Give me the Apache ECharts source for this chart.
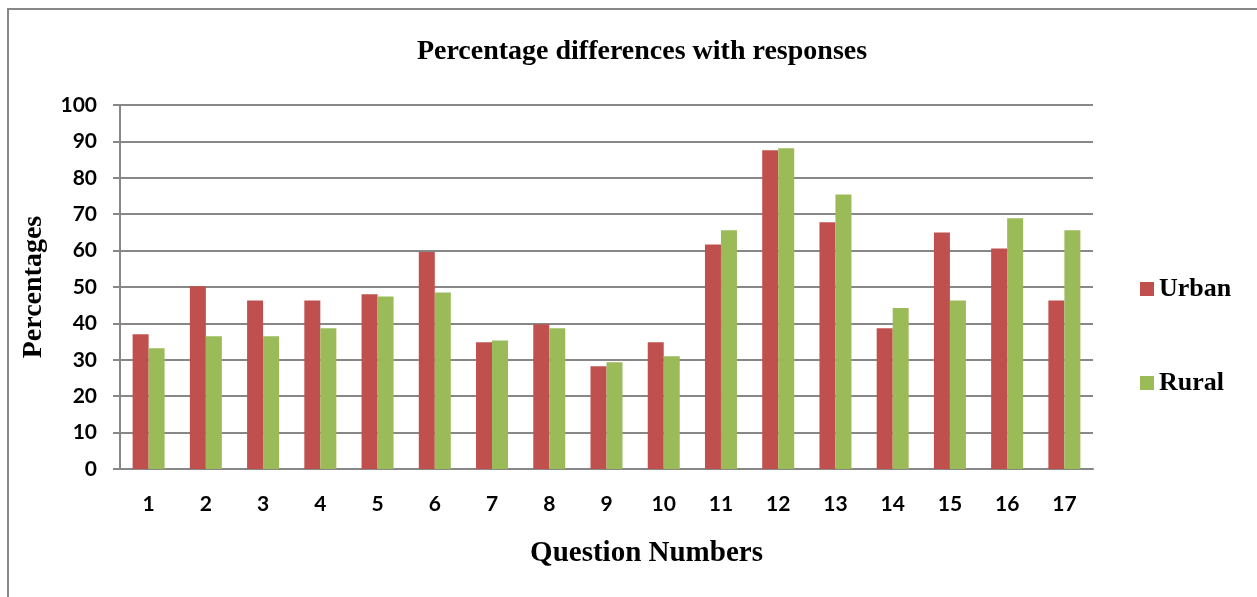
<!DOCTYPE html>
<html>
<head>
<meta charset="utf-8">
<title>Percentage differences with responses</title>
<script src="https://cdn.jsdelivr.net/npm/echarts@6/dist/echarts.min.js"></script>
<style>
  html, body { margin: 0; padding: 0; background: #fff; }
  #chart { width: 1257px; height: 597px; }
</style>
</head>
<body>
<div id="chart"></div>
<script>
// question numbers on the x axis
var questions = ['1', '2', '3', '4', '5', '6', '7', '8', '9', '10', '11', '12', '13', '14', '15', '16', '17'];
// percentages
var urban = [37.0, 50.2, 46.3, 46.3, 48.0, 59.6, 34.8, 39.8, 28.2, 34.8, 61.7, 87.6, 67.8, 38.7, 65.0, 60.6, 46.3];
var rural = [33.2, 36.5, 36.5, 38.7, 47.4, 48.5, 35.3, 38.7, 29.3, 31.0, 65.6, 88.1, 75.4, 44.2, 46.3, 68.9, 65.6];
var yTicks = { min: 0, max: 100, interval: 10 };

var serif = '"Liberation Serif", "DejaVu Serif", serif';
var sans = 'Lato, "Open Sans", sans-serif';
var gray = '#878787';

var myChart = echarts.init(document.getElementById('chart'));
var option = {
    backgroundColor: '#fff',
    animation: false,
    // outer frame of the chart
    graphic: [{
        type: 'rect',
        shape: { x: 8, y: 9, width: 1300, height: 650 },
        style: { fill: null, stroke: gray, lineWidth: 2 },
        silent: true
    }],
    title: {
        text: 'Percentage differences with responses',
        left: 637,
        top: 33,
        textAlign: 'center',
        textStyle: { fontFamily: serif, fontWeight: 'bold', fontSize: 28, color: '#000' }
    },
    legend: {
        data: ['Urban', 'Rural'],
        orient: 'vertical',
        left: 1135,
        top: 271,
        itemWidth: 14,
        itemHeight: 14,
        itemGap: 68,
        icon: 'rect',
        textStyle: { fontFamily: serif, fontWeight: 'bold', fontSize: 26, lineHeight: 26, color: '#000' }
    },
    grid: { left: 120, right: 164, top: 105, bottom: 128 },
    xAxis: [{
        type: 'category',
        data: questions,
        name: 'Question Numbers',
        nameLocation: 'middle',
        nameGap: 70,
        nameTextStyle: { fontFamily: serif, fontWeight: 'bold', fontSize: 29, color: '#000', padding: [0, 0, 0, 80] },
        axisLine: { lineStyle: { color: gray, width: 2 } },
        axisTick: { show: false },
        axisLabel: { fontFamily: sans, fontWeight: 'bold', fontSize: 21, color: '#000', margin: 25 }
    }],
    yAxis: [{
        type: 'value',
        min: yTicks.min,
        max: yTicks.max,
        interval: yTicks.interval,
        name: 'Percentages',
        nameLocation: 'middle',
        nameGap: 72,
        nameTextStyle: { fontFamily: serif, fontWeight: 'bold', fontSize: 28, color: '#000' },
        axisLine: { show: true, lineStyle: { color: gray, width: 2 } },
        axisTick: { show: true, length: 7, lineStyle: { color: gray, width: 2 } },
        axisLabel: { fontFamily: sans, fontWeight: 'bold', fontSize: 21, color: '#000', margin: 23 },
        splitLine: { lineStyle: { color: gray, width: 2 } }
    }],
    series: [
        {
            name: 'Urban',
            type: 'bar',
            data: urban,
            barWidth: 16,
            barGap: '0%',
            itemStyle: { color: '#C0504D' }
        },
        {
            name: 'Rural',
            type: 'bar',
            data: rural,
            barWidth: 16,
            barGap: '0%',
            itemStyle: { color: '#9BBB59' }
        }
    ]
};

myChart.setOption(option);
window.onresize = myChart.resize;
</script>
</body>
</html>
